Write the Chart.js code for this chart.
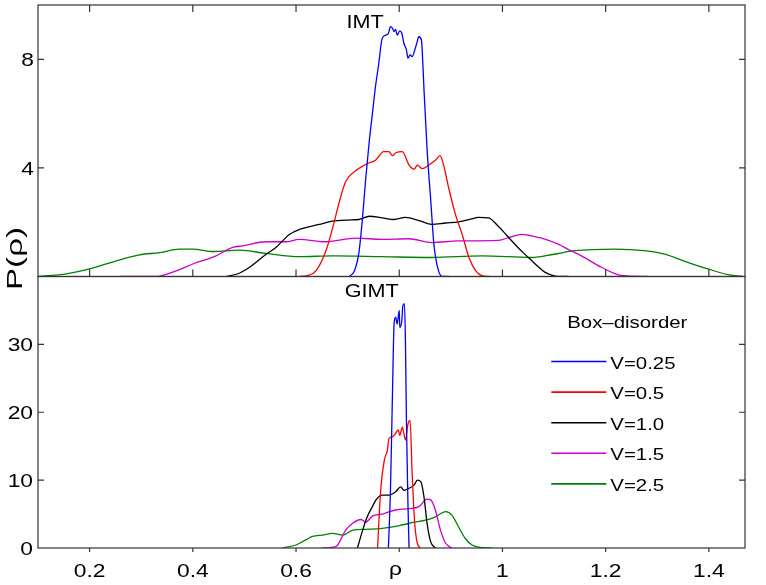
<!DOCTYPE html>
<html>
<head>
<meta charset="utf-8">
<script src="https://cdn.jsdelivr.net/npm/chart.js@4.4.1/dist/chart.umd.min.js"></script>
<style>
  html, body { margin: 0; padding: 0; background: #fff; }
  #grafica { display: block; }
</style>
</head>
<body>
<canvas id="grafica" width="766" height="585"></canvas>
<script>
// series names and colours (legend order)
const seriesLabels = ["V=0.25", "V=0.5", "V=1.0", "V=1.5", "V=2.5"];
const seriesColors = ["#0000ff", "#ff0000", "#000000", "#cc00cc", "#008000"];

// tick values / labels
const xTicks = [0.2, 0.4, 0.6, 0.8, 1.0, 1.2, 1.4];
const xTickLabels = ["0.2", "0.4", "0.6", "", "1", "1.2", "1.4"];
const imtTicks = [4, 8];
const gimtTicks = [0, 10, 20, 30];

// ---- IMT panel (top) ----
const imtX025 = [0.703, 0.713, 0.722, 0.729, 0.735, 0.742, 0.748, 0.754, 0.760, 0.767, 0.774, 0.779, 0.783, 0.787, 0.790, 0.793, 0.796, 0.801, 0.805, 0.809, 0.814, 0.817, 0.821, 0.825, 0.830, 0.834, 0.838, 0.843, 0.846, 0.848, 0.854, 0.861, 0.867, 0.874, 0.883, 0.896];
const imtY025 = [0, 0.2, 0.9, 2.2, 3.6, 5.0, 6.0, 7.0, 7.8, 8.77, 8.89, 8.96, 9.20, 9.14, 9.02, 9.10, 8.89, 9.05, 8.96, 8.59, 8.34, 8.04, 8.16, 8.10, 8.34, 8.59, 8.83, 8.71, 7.73, 6.87, 4.66, 2.82, 1.22, 0.36, 0, 0];

const imtX05 = [0.606, 0.625, 0.639, 0.658, 0.671, 0.684, 0.696, 0.716, 0.738, 0.754, 0.770, 0.780, 0.787, 0.793, 0.806, 0.819, 0.829, 0.835, 0.845, 0.857, 0.870, 0.879, 0.886, 0.896, 0.909, 0.922, 0.935, 0.948, 0.960, 0.975];
const imtY05 = [0, 0.05, 0.22, 0.95, 1.79, 2.76, 3.49, 3.9, 4.16, 4.28, 4.6, 4.6, 4.45, 4.55, 4.6, 4.10, 3.95, 4.10, 3.97, 4.10, 4.28, 4.45, 4.10, 3.25, 2.28, 1.55, 0.70, 0.22, 0.03, 0];

const imtX10 = [0.465, 0.490, 0.510, 0.542, 0.561, 0.587, 0.606, 0.645, 0.671, 0.700, 0.722, 0.742, 0.767, 0.790, 0.812, 0.840, 0.863, 0.890, 0.915, 0.940, 0.953, 0.973, 0.992, 1.008, 1.024, 1.040, 1.057, 1.070, 1.082, 1.095, 1.108, 1.128];
const imtY10 = [0, 0.12, 0.34, 0.82, 1.07, 1.55, 1.73, 1.92, 2.04, 2.08, 2.10, 2.22, 2.16, 2.10, 2.18, 2.05, 1.92, 1.97, 2.01, 2.12, 2.18, 2.16, 1.85, 1.52, 1.19, 0.88, 0.58, 0.35, 0.16, 0.05, 0, 0];

const imtX15 = [0.258, 0.329, 0.361, 0.400, 0.445, 0.477, 0.497, 0.542, 0.581, 0.606, 0.658, 0.716, 0.767, 0.818, 0.863, 0.915, 0.992, 1.015, 1.037, 1.056, 1.076, 1.108, 1.130, 1.153, 1.192, 1.230, 1.282];
const imtY15 = [0, 0, 0.16, 0.46, 0.76, 1.07, 1.13, 1.28, 1.28, 1.37, 1.28, 1.41, 1.37, 1.39, 1.25, 1.31, 1.33, 1.45, 1.55, 1.50, 1.41, 1.19, 0.97, 0.76, 0.34, 0.04, 0];

const imtX25 = [0.100, 0.155, 0.200, 0.252, 0.297, 0.336, 0.374, 0.400, 0.439, 0.490, 0.542, 0.606, 0.671, 0.767, 0.863, 0.960, 1.057, 1.100, 1.140, 1.217, 1.275, 1.314, 1.359, 1.398, 1.437, 1.466];
const imtY25 = [0, 0.1, 0.28, 0.58, 0.80, 0.88, 1.01, 1.01, 0.92, 0.97, 0.85, 0.73, 0.76, 0.73, 0.70, 0.76, 0.70, 0.82, 0.95, 1.01, 0.95, 0.82, 0.52, 0.28, 0.07, 0];

// ---- GIMT panel (bottom) ----
const gimtX025 = [0.779, 0.783, 0.787, 0.790, 0.793, 0.796, 0.800, 0.801, 0.805, 0.807, 0.810, 0.812, 0.814, 0.817, 0.819];
const gimtY025 = [0, 8.5, 23.2, 33.0, 34.0, 33.0, 35.0, 32.5, 33.5, 35.7, 36.0, 30.6, 18.3, 6.1, 0];

const gimtX05 = [0.758, 0.764, 0.771, 0.777, 0.780, 0.787, 0.793, 0.798, 0.801, 0.806, 0.812, 0.817, 0.821, 0.825, 0.830, 0.835, 0.841];
const gimtY05 = [0, 8.5, 12.9, 14.4, 16.1, 16.4, 16.9, 17.4, 16.6, 17.8, 15.9, 18.3, 18.8, 11.0, 3.6, 0.7, 0];

const gimtX10 = [0.719, 0.729, 0.738, 0.748, 0.755, 0.767, 0.780, 0.793, 0.803, 0.809, 0.819, 0.829, 0.835, 0.842, 0.848, 0.854, 0.861, 0.870];
const gimtY10 = [0, 2.6, 4.6, 6.1, 7.1, 7.8, 7.8, 8.3, 9.0, 8.5, 8.8, 9.3, 10.0, 9.75, 7.5, 3.6, 0.9, 0];

const gimtX15 = [0.651, 0.677, 0.696, 0.709, 0.726, 0.735, 0.748, 0.767, 0.793, 0.819, 0.838, 0.854, 0.861, 0.870, 0.880, 0.890, 0.902];
const gimtY15 = [0, 0.2, 2.6, 3.6, 4.2, 3.8, 4.7, 5.0, 5.6, 5.8, 6.1, 7.2, 7.1, 5.6, 2.6, 0.7, 0];

const gimtX25 = [0.574, 0.600, 0.619, 0.632, 0.651, 0.671, 0.690, 0.709, 0.735, 0.767, 0.800, 0.830, 0.851, 0.870, 0.890, 0.902, 0.915, 0.928, 0.941, 0.961, 0.979];
const gimtY25 = [0, 0.44, 1.2, 1.7, 1.9, 2.16, 1.9, 2.6, 2.75, 2.9, 3.3, 3.8, 4.1, 4.6, 5.35, 4.85, 3.1, 1.4, 0.44, 0.05, 0];

const imtSeries = [[imtX025, imtY025], [imtX05, imtY05], [imtX10, imtY10], [imtX15, imtY15], [imtX25, imtY25]];
const gimtSeries = [[gimtX025, gimtY025], [gimtX05, gimtY05], [gimtX10, gimtY10], [gimtX15, gimtY15], [gimtX25, gimtY25]];

const FONT = "'Liberation Sans', Arial, Helvetica, sans-serif";
const SX = 1.2; // the original figure is stretched sideways

function puntos(xs, ys) {
    return xs.map((x, i) => ({ x: x, y: ys[i] }));
}

function crearDataset(par, i, eje) {
    return {
        label: seriesLabels[i],
        data: puntos(par[0], par[1]),
        yAxisID: eje,
        borderColor: seriesColors[i],
        borderWidth: 1.3,
        pointRadius: 0,
        fill: false,
        cubicInterpolationMode: "monotone"
    };
}

const datasets = [
    ...imtSeries.map((p, i) => crearDataset(p, i, "yImt")),
    ...gimtSeries.map((p, i) => crearDataset(p, i, "yGimt"))
];

function texto(ctx, str, x, y, align, size) {
    ctx.save();
    ctx.font = size + "px " + FONT;
    ctx.translate(x, y);
    ctx.scale(SX, 1);
    ctx.textAlign = align;
    ctx.textBaseline = "alphabetic";
    ctx.fillText(str, 0, 0);
    ctx.restore();
}

// frame, inward ticks, labels and legend in the matlab look
const marco = {
    id: "marco",
    afterDatasetsDraw(chart) {
        const { ctx, chartArea: a, scales } = chart;
        const x = scales.x, yt = scales.yImt, yb = scales.yGimt;

        ctx.save();
        ctx.strokeStyle = "#333";
        ctx.lineWidth = 1.2;
        ctx.strokeRect(a.left, yt.top, a.right - a.left, yt.bottom - yt.top);
        ctx.strokeRect(a.left, yb.top, a.right - a.left, yb.bottom - yb.top);

        ctx.beginPath();
        xTicks.forEach(v => {
            const px = x.getPixelForValue(v);
            ctx.moveTo(px, yt.top); ctx.lineTo(px, yt.top + 7);
            ctx.moveTo(px, yt.bottom); ctx.lineTo(px, yt.bottom - 7);
            ctx.moveTo(px, yb.bottom); ctx.lineTo(px, yb.bottom + 4);
        });
        imtTicks.forEach(v => {
            const py = yt.getPixelForValue(v);
            ctx.moveTo(a.left, py); ctx.lineTo(a.left + 6, py);
            ctx.moveTo(a.right, py); ctx.lineTo(a.right - 6, py);
        });
        gimtTicks.forEach(v => {
            if (v === 0) return;
            const py = yb.getPixelForValue(v);
            ctx.moveTo(a.left, py); ctx.lineTo(a.left + 6, py);
            ctx.moveTo(a.right, py); ctx.lineTo(a.right - 6, py);
        });
        ctx.stroke();

        ctx.fillStyle = "#000";
        // tick labels
        xTicks.forEach((v, i) => {
            texto(ctx, xTickLabels[i], x.getPixelForValue(v), yb.bottom + 29, "center", 19);
        });
        imtTicks.forEach(v => texto(ctx, String(v), a.left - 4, yt.getPixelForValue(v) + 7, "right", 19));
        gimtTicks.forEach(v => texto(ctx, String(v), a.left - 5, yb.getPixelForValue(v) + 7, "right", 19));

        // axis titles
        texto(ctx, "ρ", (a.left + a.right) / 2 + 4, yb.bottom + 27, "center", 19);
        ctx.save();
        ctx.font = "17px " + FONT;
        ctx.translate(16, yt.bottom - 18);
        ctx.rotate(-Math.PI / 2);
        const w = ctx.measureText("P(ρ)").width;
        ctx.scale(63 / w, 1.25);
        ctx.textAlign = "center";
        ctx.textBaseline = "middle";
        ctx.fillText("P(ρ)", 0, 0);
        ctx.restore();

        // panel names
        const ancho = a.right - a.left;
        texto(ctx, "IMT", a.left + ancho * 0.4625, yt.top + 23, "center", 18);
        texto(ctx, "GIMT", a.left + ancho * 0.472, yb.top + 20, "center", 18);

        // legend
        const lx = a.left + ancho * 0.726;
        texto(ctx, "Box–disorder", lx + 76, yb.top + 51, "center", 17);
        seriesLabels.forEach((lab, i) => {
            const ly = yb.top + 85 + i * 30.6;
            ctx.strokeStyle = seriesColors[i];
            ctx.lineWidth = 1.6;
            ctx.beginPath();
            ctx.moveTo(lx, ly); ctx.lineTo(lx + 55, ly);
            ctx.stroke();
            ctx.fillStyle = "#000";
            texto(ctx, lab, lx + 59, ly + 7, "left", 17);
        });
        ctx.restore();
    }
};

new Chart(document.getElementById("grafica").getContext("2d"), {
    type: "line",
    data: { datasets: datasets },
    options: {
        responsive: false,
        animation: false,
        devicePixelRatio: 1,
        layout: { padding: { top: 5, right: 21, left: 0, bottom: 0 } },
        plugins: { legend: { display: false }, tooltip: { enabled: false } },
        scales: {
            x: {
                type: "linear", min: 0.1, max: 1.47,
                grid: { display: false }, border: { display: false },
                ticks: { display: false },
                afterFit: s => { s.height = 37; }
            },
            yGimt: {
                type: "linear", position: "left", stack: "panel", stackWeight: 1,
                min: 0, max: 40,
                grid: { display: false }, border: { display: false },
                ticks: { display: false },
                afterFit: s => { s.width = 38; }
            },
            yImt: {
                type: "linear", position: "left", stack: "panel", stackWeight: 1,
                min: 0, max: 10,
                grid: { display: false }, border: { display: false },
                ticks: { display: false },
                afterFit: s => { s.width = 38; }
            }
        }
    },
    plugins: [marco]
});
</script>
</body>
</html>
